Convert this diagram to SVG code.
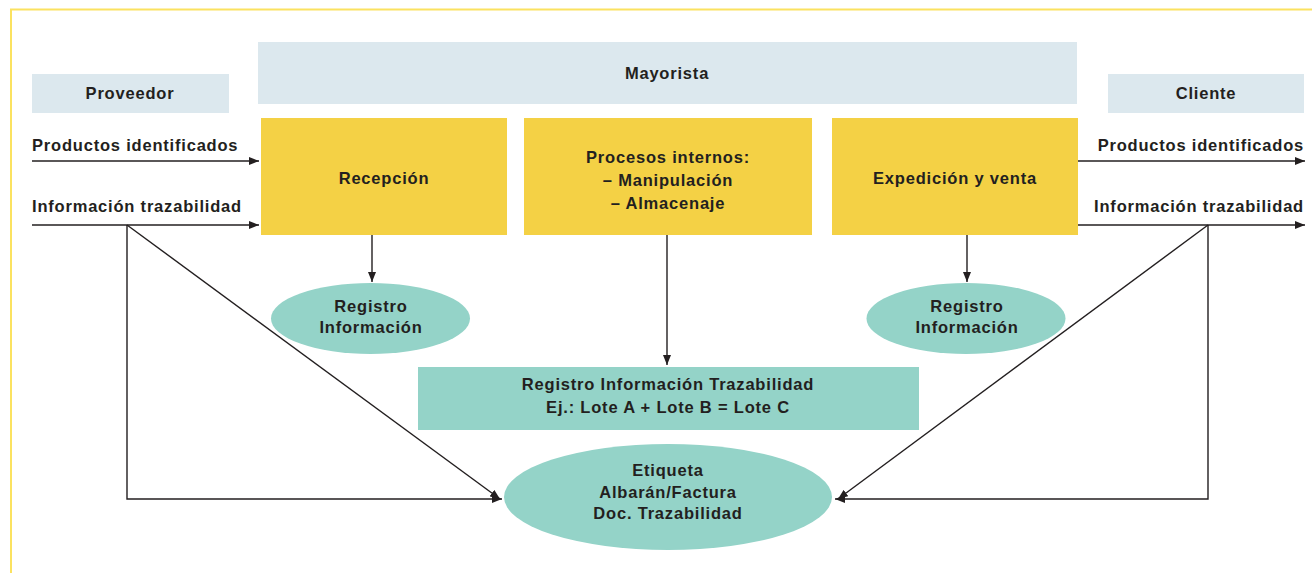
<svg xmlns="http://www.w3.org/2000/svg" width="1312" height="573" viewBox="0 0 1312 573">
<defs>
<marker id="ah" viewBox="0 0 10 8" refX="10" refY="4" markerWidth="10" markerHeight="8" markerUnits="userSpaceOnUse" orient="auto">
<path d="M0,0 L10,4 L0,8 z" fill="#231f20"/>
</marker>
<style>
text{font-family:"Liberation Sans",Arial,sans-serif;font-weight:bold;font-size:16.5px;letter-spacing:0.8px;fill:#231f20;text-anchor:middle}
.l{text-anchor:start}
.r{text-anchor:end}
.blue{fill:#dce8ee}
.yel{fill:#f4d145}
.teal{fill:#94d3c8}
.c line,.c polyline{stroke:#231f20;stroke-width:1.4;fill:none}
</style>
</defs>
<rect width="1312" height="573" fill="#fff"/>
<path d="M11,573 V9.5 H1312" fill="none" stroke="#fbe260" stroke-width="2"/>
<g id="proveedor"><rect class="blue" x="32" y="74" width="197" height="39"/><text x="130" y="99">Proveedor</text></g>
<g id="mayorista"><rect class="blue" x="258" y="42" width="819" height="62"/><text x="667" y="79">Mayorista</text></g>
<g id="cliente"><rect class="blue" x="1108" y="74" width="196" height="39"/><text x="1206" y="99">Cliente</text></g>
<g id="recepcion"><rect class="yel" x="261" y="118" width="246" height="117"/><text x="384" y="184">Recepción</text></g>
<g id="procesos"><rect class="yel" x="524" y="118" width="288" height="117"/><text x="668" y="163">Procesos internos:</text><text x="668" y="186">– Manipulación</text><text x="668" y="209">– Almacenaje</text></g>
<g id="expedicion"><rect class="yel" x="832" y="118" width="246" height="117"/><text x="955" y="184">Expedición y venta</text></g>
<g id="registro1"><ellipse class="teal" cx="370.5" cy="318.5" rx="99.5" ry="35.5"/><text x="371" y="312">Registro</text><text x="371" y="333">Información</text></g>
<g id="registro2"><ellipse class="teal" cx="966" cy="318.5" rx="99.5" ry="35.5"/><text x="967" y="312">Registro</text><text x="967" y="333">Información</text></g>
<g id="registroTraz"><rect class="teal" x="418" y="367" width="501" height="63"/><text x="668" y="390">Registro Información Trazabilidad</text><text x="668" y="413">Ej.: Lote A + Lote B = Lote C</text></g>
<g id="etiqueta"><ellipse class="teal" cx="668" cy="497" rx="164" ry="53"/><text x="668" y="476">Etiqueta</text><text x="668" y="498">Albarán/Factura</text><text x="668" y="519">Doc. Trazabilidad</text></g>
<g id="labels">
<text class="l" x="32" y="151">Productos identificados</text>
<text class="l" x="32" y="212">Información trazabilidad</text>
<text class="r" x="1304" y="151">Productos identificados</text>
<text class="r" x="1304" y="212">Información trazabilidad</text>
</g>
<g id="connectors" class="c">
<line x1="32" y1="161" x2="259" y2="161" marker-end="url(#ah)"/>
<line x1="32" y1="225" x2="259" y2="225" marker-end="url(#ah)"/>
<line x1="1078" y1="161" x2="1305" y2="161" marker-end="url(#ah)"/>
<line x1="1078" y1="225" x2="1305" y2="225" marker-end="url(#ah)"/>
<line x1="372" y1="235" x2="372" y2="282" marker-end="url(#ah)"/>
<line x1="967" y1="235" x2="967" y2="282" marker-end="url(#ah)"/>
<line x1="667" y1="235" x2="667" y2="365" marker-end="url(#ah)"/>
<polyline points="127,225 127,499 502,499" marker-end="url(#ah)"/>
<line x1="127" y1="225" x2="500" y2="499" marker-end="url(#ah)"/>
<polyline points="1208,225 1208,499 835,499" marker-end="url(#ah)"/>
<line x1="1208" y1="225" x2="838" y2="499" marker-end="url(#ah)"/>
</g>
</svg>
